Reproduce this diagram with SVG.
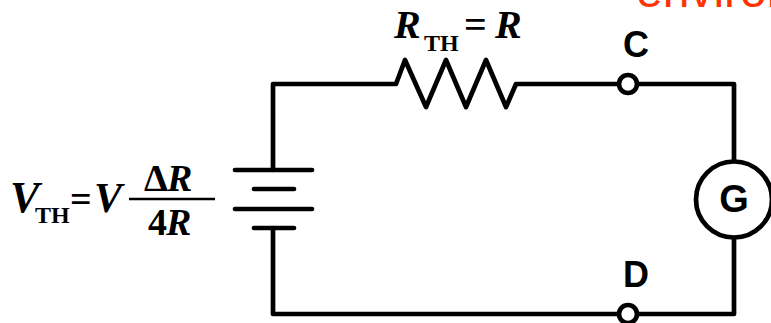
<svg xmlns="http://www.w3.org/2000/svg" width="771" height="323" viewBox="0 0 771 323">
<style>
.w{fill:none;stroke:#000;stroke-width:4.7;stroke-linecap:round;stroke-linejoin:round}
.b{stroke:#000;stroke-width:4.7;stroke-linecap:round}
.m{font-family:"Liberation Serif",serif;font-weight:bold;fill:#000}
.i{font-style:italic}
.a{font-family:"Liberation Sans",sans-serif;font-weight:bold;fill:#000;text-anchor:middle}
.n{fill:#fff;stroke:#000;stroke-width:4.7}
</style>
<rect width="771" height="323" fill="#fff"/>
<g id="connectors">
<path class="w" d="M273 170V84H396L405 60L426 107L446 60L466 107L486 60L506 107L516 84H734V165"/>
<path class="w" d="M273 228V314H734V238"/>
</g>
<g id="battery">
<path class="b" d="M235 170H312M254 189H294M235 209H312M254 228H294"/>
</g>
<g id="resistor-label">
<text class="m i" x="394" y="38" font-size="40">R</text>
<text class="m" x="424" y="51" font-size="24">TH</text>
<text class="m" x="464" y="38" font-size="40">=</text>
<text class="m i" x="495" y="38" font-size="40">R</text>
</g>
<g id="voltage-label">
<text class="m i" x="10" y="212" font-size="44">V</text>
<text class="m" x="35" y="223" font-size="24">TH</text>
<text class="m" x="70" y="212" font-size="38">=</text>
<text class="m i" x="94" y="212" font-size="42">V</text>
<path d="M129 199H215" stroke="#000" stroke-width="2.5"/>
<text class="m" x="144" y="191" font-size="38">Δ</text>
<text class="m i" x="167" y="191" font-size="38">R</text>
<text class="m" x="148" y="235" font-size="38">4</text>
<text class="m i" x="166" y="235" font-size="38">R</text>
</g>
<g id="node-c">
<circle class="n" cx="628" cy="84" r="9"/>
<text class="a" x="636" y="57" font-size="36">C</text>
</g>
<g id="node-d">
<circle class="n" cx="628" cy="314" r="9"/>
<text class="a" x="636" y="287" font-size="36">D</text>
</g>
<g id="galvanometer">
<circle class="n" cx="734" cy="199.500" r="38"/>
<text class="a" x="734" y="212" font-size="38">G</text>
</g>
<text x="636" y="7" font-family="Liberation Sans,sans-serif" font-size="48" fill="#ff3300">environ</text>
</svg>
